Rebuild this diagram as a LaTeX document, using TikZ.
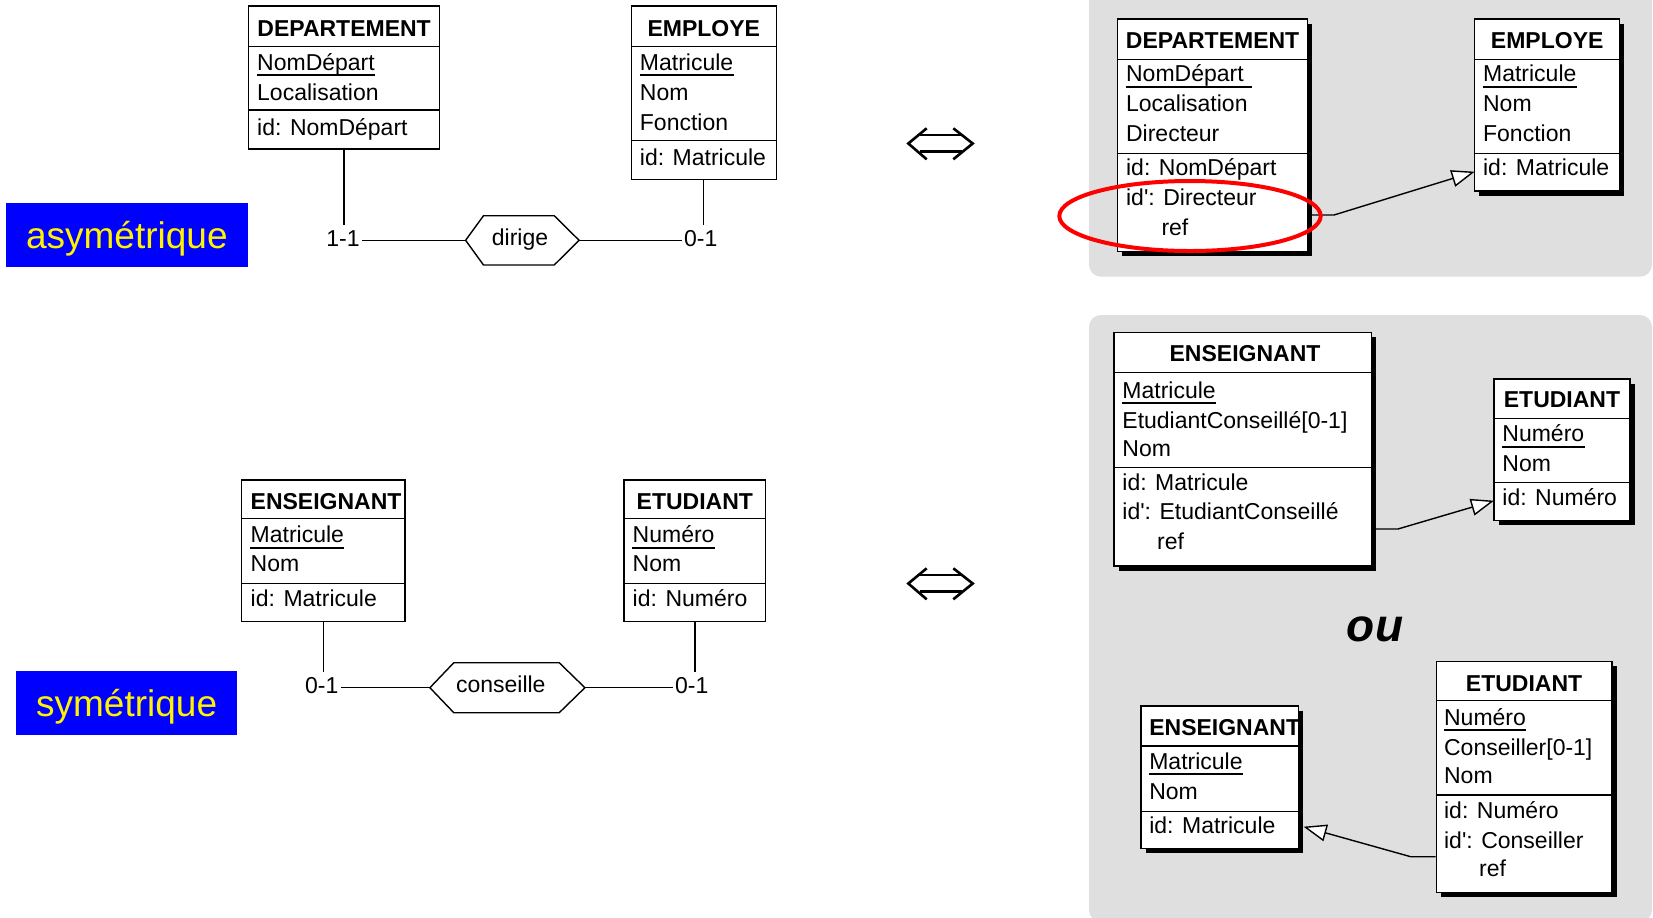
\documentclass[tikz,border=0pt]{standalone}
\usepackage{fontspec}
\setmainfont{Liberation Sans}
\usetikzlibrary{arrows.meta,fit}
\definecolor{panelgray}{RGB}{223,223,223}
\newcommand\fsz{\fontsize{11.5}{13.8}\selectfont}
\newcommand\mkent[7]{%
  \node[ent, fit={(#2,#3) (#4,#5)}] (#1) {};
  \draw[eline] (#2,#6) -- (#4,#6) (#2,#7) -- (#4,#7);}
\newcommand\mkshadow[4]{\fill[black] (#1+4.5,#2+4.5) rectangle (#3+4.5,#4+4.5);}
\begin{document}
\begin{tikzpicture}[x=0.5pt,y=-0.5pt,
  ent/.style={draw, fill=white, line width=0.7pt, inner sep=0pt},
  eline/.style={line width=0.7pt},
  att/.style={anchor=base west, inner sep=0pt, font=\fsz},
  hdr/.style={anchor=base, inner sep=0pt, font=\fsz\bfseries},
  hdrw/.style={anchor=base west, inner sep=0pt, font=\fsz\bfseries},
  card/.style={anchor=base, inner xsep=1pt, inner ysep=2.5pt, font=\fsz},
  conn/.style={line width=0.7pt},
  arr/.style={-{Triangle[fill=white, length=11.5pt, width=8.5pt]}},
  ulin/.style={line width=0.9pt},
  dbl/.style={line width=1.3pt},
  tag/.style={fill=blue, text=yellow, font=\fontsize{18.5}{22}\selectfont, inner sep=0pt, text height=17.5pt, text depth=4pt}]
\useasboundingbox (0,0) rectangle (1653,917);
% panels
\begin{scope}
  \clip (0,0) rectangle (1653,917);
  \fill[panelgray, rounded corners=6pt] (1089,-30) rectangle (1652,276.7);
  \fill[panelgray, rounded corners=6pt] (1089,315) rectangle (1652,922);
\end{scope}
% tags
\node[tag, minimum width=120.85pt, minimum height=32pt] (asym) at (126.85,234.7) {asymétrique};
\node[tag, minimum width=110.65pt, minimum height=32.15pt] (sym) at (126.65,702.85) {symétrique};
% left entities
\mkent{d1}{248.6}{6}{439.6}{149}{46.7}{110}
\mkent{e1}{631.3}{6}{776.2}{179.3}{46.7}{140.7}
\mkent{n1}{241.4}{480}{405}{621.7}{518.3}{583.3}
\mkent{t1}{624.1}{480}{765.5}{621.7}{518.3}{583.3}
% right entities
\mkshadow{1117.6}{19}{1307.6}{251.7}
\mkent{d2}{1117.6}{19}{1307.6}{251.7}{59.3}{153.3}
\mkshadow{1474.6}{19}{1619.7}{191}
\mkent{e2}{1474.6}{19}{1619.7}{191}{59.3}{153.3}
\mkshadow{1114}{332.7}{1371.2}{566}
\mkent{n2}{1114}{332.7}{1371.2}{566}{372.3}{467.3}
\mkshadow{1494}{379}{1630}{520.7}
\mkent{t2}{1494}{379}{1630}{520.7}{418.3}{482.7}
\mkshadow{1141.1}{706}{1298.5}{848.3}
\mkent{n3}{1141.1}{706}{1298.5}{848.3}{746}{811.7}
\mkshadow{1436.2}{661.7}{1612}{892.7}
\mkent{t3}{1436.2}{661.7}{1612}{892.7}{700.7}{795}
% texts d1
\node[hdr] (d1h) at (344.1,36) {DEPARTEMENT};
\node[att] (d1a) at (256.8,70) {NomDépart};
\node[att] (d1b) at (256.8,100.7) {Localisation};
\node[att] (d1c) at (256.8,135) {id: NomDépart};
% e1
\node[hdr] (e1h) at (703.8,36) {EMPLOYE};
\node[att] (e1a) at (639.5,70) {Matricule};
\node[att] (e1b) at (639.5,100) {Nom};
\node[att] (e1c) at (639.5,130) {Fonction};
\node[att] (e1d) at (639.5,165) {id: Matricule};
% n1
\node[hdrw] (n1h) at (250.3,509.3) {ENSEIGNANT};
\node[att] (n1a) at (250.3,542.7) {Matricule};
\node[att] (n1b) at (250.3,571.7) {Nom};
\node[att] (n1c) at (250.3,606.7) {id: Matricule};
% t1
\node[hdr] (t1h) at (694.8,509.3) {ETUDIANT};
\node[att] (t1a) at (632.3,542.7) {Numéro};
\node[att] (t1b) at (632.3,571.7) {Nom};
\node[att] (t1c) at (632.3,606.7) {id: Numéro};
% d2
\node[hdr] (d2h) at (1212.6,48.3) {DEPARTEMENT};
\node[att] (d2a) at (1125.7,81.7) {NomDépart};
\node[att] (d2b) at (1125.7,111.7) {Localisation};
\node[att] (d2c) at (1125.7,141.7) {Directeur};
\node[att] (d2d) at (1125.7,175) {id: NomDépart};
\node[att] (d2e) at (1125.7,205) {id\textquotesingle: Directeur};
\node[att] (d2f) at (1161.1,235) {ref};
% e2
\node[hdr] (e2h) at (1547.2,48.3) {EMPLOYE};
\node[att] (e2a) at (1482.7,81.7) {Matricule};
\node[att] (e2b) at (1482.7,111.7) {Nom};
\node[att] (e2c) at (1482.7,141.7) {Fonction};
\node[att] (e2d) at (1482.7,175) {id: Matricule};
% n2
\node[hdr] (n2h) at (1245,361.7) {ENSEIGNANT};
\node[att] (n2a) at (1122,398.3) {Matricule};
\node[att] (n2b) at (1122,428.3) {EtudiantConseillé[0-1]};
\node[att] (n2c) at (1122,456.7) {Nom};
\node[att] (n2d) at (1122,490) {id: Matricule};
\node[att] (n2e) at (1122,519.3) {id\textquotesingle: EtudiantConseillé};
\node[att] (n2f) at (1156.7,549.3) {ref};
% t2
\node[hdr] (t2h) at (1562,407.3) {ETUDIANT};
\node[att] (t2a) at (1502,441.7) {Numéro};
\node[att] (t2b) at (1502,471.7) {Nom};
\node[att] (t2c) at (1502,505) {id: Numéro};
% n3
\node[hdrw] (n3h) at (1148.9,735) {ENSEIGNANT};
\node[att] (n3a) at (1148.9,769.3) {Matricule};
\node[att] (n3b) at (1148.9,799.3) {Nom};
\node[att] (n3c) at (1148.9,833.3) {id: Matricule};
% t3
\node[hdr] (t3h) at (1524.1,691.7) {ETUDIANT};
\node[att] (t3a) at (1443.7,725) {Numéro};
\node[att] (t3b) at (1443.7,755) {Conseiller[0-1]};
\node[att] (t3c) at (1443.7,783.3) {Nom};
\node[att] (t3d) at (1443.7,818.3) {id: Numéro};
\node[att] (t3e) at (1443.7,848.3) {id\textquotesingle: Conseiller};
\node[att] (t3f) at (1478.7,876.7) {ref};
% underlines
\foreach \u in {d1a,e1a,n1a,t1a,e2a,n2a,t2a,n3a,t3a}
  \draw[ulin] ([yshift=-2.5pt]\u.base west) -- ([yshift=-2.5pt]\u.base east);
\draw[ulin] ([yshift=-2.5pt]d2a.base west) -- ([xshift=4pt,yshift=-2.5pt]d2a.base east);
% relationship dirige
\node[card] (m1) at (343,246.7) {1-1};
\node[card] (m2) at (700.7,246.7) {0-1};
\node[font=\fsz, anchor=base, inner sep=0pt] (r1) at (520,245) {dirige};
\coordinate (h1L) at (465.6,240.3);
\coordinate (h1R) at (579.1,240.3);
\draw[conn] (h1L) -- (483.5,215.7) -- (554.2,215.7) -- (h1R) -- (554.2,265) -- (483.5,265) -- cycle;
\draw[conn] (d1.south) -- (d1.south |- m1.north);
\draw[conn] (m1.east |- h1L) -- (h1L);
\draw[conn] (h1R) -- (m2.west |- h1R);
\draw[conn] (e1.south) -- (e1.south |- m2.north);
% relationship conseille
\node[card] (m3) at (321.8,693.3) {0-1};
\node[card] (m4) at (691.8,693.3) {0-1};
\node[font=\fsz, anchor=base, inner sep=0pt] (r2) at (500.8,692) {conseille};
\coordinate (h2L) at (429.9,687.7);
\coordinate (h2R) at (584.9,687.7);
\draw[conn] (h2L) -- (453.8,662.7) -- (559.2,662.7) -- (h2R) -- (559.2,712.7) -- (453.8,712.7) -- cycle;
\draw[conn] (n1.south) -- (n1.south |- m3.north);
\draw[conn] (m3.east |- h2L) -- (h2L);
\draw[conn] (h2R) -- (m4.west |- h2R);
\draw[conn] (t1.south) -- (t1.south |- m4.north);
% equivalence arrows
\foreach \dy in {0,440} {
  \draw[dbl] (920,135+\dy) -- (961.7,135+\dy) (920,151.7+\dy) -- (961.7,151.7+\dy);
  \draw[dbl] (926.7,128.3+\dy) -- (908.3,143.5+\dy) -- (926.7,159.3+\dy);
  \draw[dbl] (953.3,128.3+\dy) -- (972.7,143.5+\dy) -- (953.3,159.3+\dy);
}
% foreign key connectors
\coordinate (k1a) at (1334,215);
\coordinate (k1b) at (1474.6,171.7);
\draw[conn, arr] (d2.east |- k1a) -- (k1a) -- (k1b);
\coordinate (k2a) at (1397.9,529);
\coordinate (k2b) at (1494,500.7);
\draw[conn, arr] (n2.east |- k2a) -- (k2a) -- (k2b);
\coordinate (k3a) at (1410.7,856.7);
\coordinate (k3b) at (1303.6,826.7);
\draw[conn, arr] (t3.west |- k3a) -- (k3a) -- (k3b);
% ou
\node[font=\fontsize{23}{27}\selectfont\bfseries\itshape, inner sep=0pt] (ou) at (1375,629) {ou};
% red ellipse
\draw[red, line width=2pt] (1190,216) ellipse [x radius=65.35pt, y radius=17.5pt];
\end{tikzpicture}
\end{document}
